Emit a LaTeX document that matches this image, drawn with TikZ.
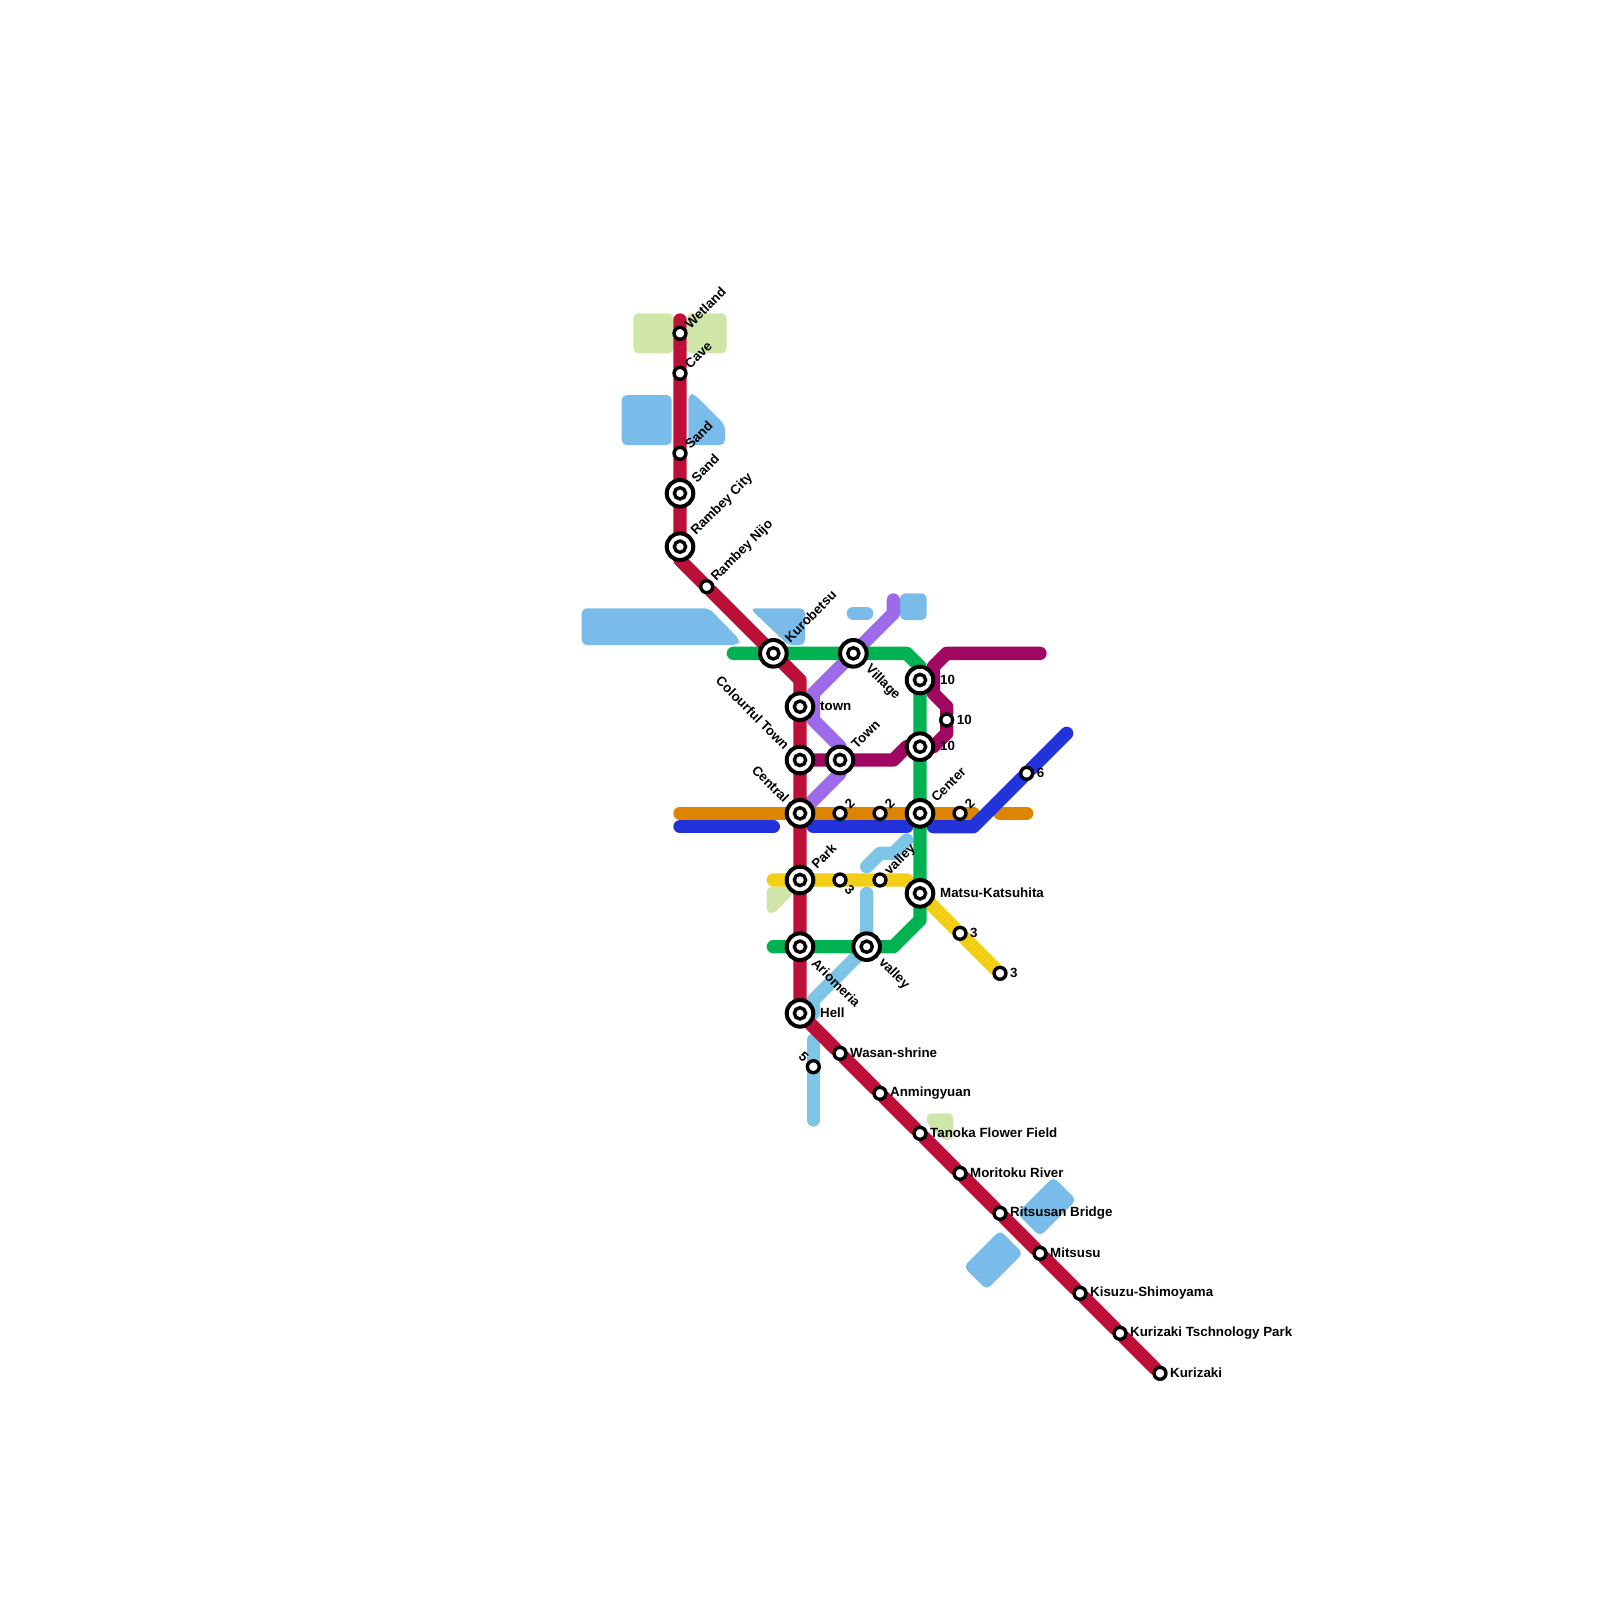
\documentclass[tikz,border=0pt]{standalone}
\usepackage{fontspec}
\setmainfont{Liberation Sans}
\definecolor{redline}{HTML}{BD1038}
\definecolor{greenline}{HTML}{00B251}
\definecolor{purpleline}{HTML}{9D6BEA}
\definecolor{magentaline}{HTML}{A00761}
\definecolor{orangeline}{HTML}{DD8500}
\definecolor{blueline}{HTML}{2233D9}
\definecolor{yellowline}{HTML}{F2CE14}
\definecolor{riverline}{HTML}{7CC5E7}
\definecolor{water}{HTML}{79BCE9}
\definecolor{park}{HTML}{D0E6A8}
\pgfdeclarelayer{lines}
\pgfsetlayers{lines,main}
\tikzset{
	smallstn/.style={circle,draw,fill=white,line width=3.4pt,inner sep=0pt,outer sep=0pt,minimum size=11.9pt},
	bigstn/.style={circle,draw,fill=white,line width=4pt,inner sep=0pt,outer sep=0pt,minimum size=26.6pt},
	bigdot/.style={circle,draw,fill=white,line width=3.4pt,inner sep=0pt,outer sep=0pt,minimum size=11.3pt},
	lbl/.style={inner sep=0pt,font=\fontsize{13.33}{13.33}\selectfont\bfseries},
	lble/.style={lbl,xshift=10pt,yshift=0.5pt,anchor=west},
	lblne/.style={lbl,xshift=7pt,yshift=7pt,rotate=45,anchor=west},
	lblse/.style={lbl,xshift=7pt,yshift=-7pt,rotate=-45,anchor=west},
	lblnw/.style={lbl,xshift=-7pt,yshift=7pt,rotate=-45,anchor=east},
	bige/.style={lbl,xshift=20pt,yshift=0.5pt,anchor=west},
	bigne/.style={lbl,xshift=13.5pt,yshift=13.5pt,rotate=45,anchor=west},
	bigse/.style={lbl,xshift=14pt,yshift=-14pt,rotate=-45,anchor=west},
	bignw/.style={lbl,xshift=-13pt,yshift=13pt,rotate=-45,anchor=east},
	route/.style={line width=13.33pt,line cap=round,line join=round},
	block/.style={rounded corners=5pt}
}
\begin{document}
\begin{tikzpicture}[x=1pt,y=-1pt]
\useasboundingbox (0,0) rectangle (1600,1600);
% interchange stations
\foreach \x/\y/\n/\t/\s in {680/493.33/sandcity/Sand/ne,680/546.67/rambey/Rambey City/ne,773.33/653.33/kurobetsu/Kurobetsu/ne,
	800/706.67/town/town/e,800/760/colourful/Colourful Town/nw,800/813.33/central/Central/nw,800/880/parkst/Park/ne,
	800/946.67/ariomeria/Ariomeria/se,800/1013.33/hell/Hell/e,853.33/653.33/village/Village/se,840/760/townb/Town/ne,
	866.67/946.67/valley/valley/se,920/680/tena/10/e,920/746.67/tenb/10/e,920/813.33/center/Center/ne,920/893.33/matsu/Matsu-Katsuhita/e}
{
	\node[bigstn] at (\x,\y) (\n) {};
	\node[bigdot] at (\x,\y) (\n dot) {};
	\node[big\s] at (\x,\y) (\n lbl) {\t};
}
% plain stations
\foreach \x/\y/\n/\t/\s in {680/333.33/wetland/Wetland/ne,680/373.33/cave/Cave/ne,680/453.33/sand/Sand/ne,706.67/586.67/nijo/Rambey Nijo/ne,
	946.67/720/tenc/10/e,1026.67/773.33/six/6/e,840/813.33/twoa/2/ne,880/813.33/twob/2/ne,960/813.33/twoc/2/ne,
	840/880/threea/3/se,880/880/valleyb/valley/ne,960/933.33/threeb/3/e,1000/973.33/threec/3/e,813.33/1066.67/five/5/nw,
	840/1053.33/wasan/Wasan-shrine/e,880/1093.33/anmingyuan/Anmingyuan/e,920/1133.33/tanoka/Tanoka Flower Field/e,
	960/1173.33/moritoku/Moritoku River/e,1000/1213.33/ritsusan/Ritsusan Bridge/e,1040/1253.33/mitsusu/Mitsusu/e,
	1080/1293.33/kisuzu/Kisuzu-Shimoyama/e,1120/1333.33/tschnology/Kurizaki Tschnology Park/e,1160/1373.33/kurizaki/Kurizaki/e}
{
	\node[smallstn] at (\x,\y) (\n) {};
	\node[lbl\s] at (\x,\y) (\n lbl) {\t};
}
% bends and line ends
\foreach \x/\y/\n in {680/320/reda,680/560/redb,800/680/redc,
	733.33/653.33/greena,906.67/653.33/greenb,920/666.67/greenc,920/920/greend,893.33/946.67/greene,773.33/946.67/greenf,
	893.33/600/purplea,893.33/613.33/purpleb,813.33/693.33/purplec,813.33/720/purpled,840/746.67/purplee,840/773.33/purplef,
	1040/653.33/maga,946.67/653.33/magb,933.33/666.67/magc,933.33/693.33/magd,946.67/706.67/mage,946.67/733.33/magf,933.33/746.67/magg,906.67/746.67/magh,893.33/760/magi,
	773.33/880/yellowa,906.67/880/yellowb,
	680/813.33/orangea,973.33/813.33/orangeb,1000/813.33/orangec,1026.67/813.33/oranged,
	680/826.67/bluea,773.33/826.67/blueb,813.33/826.67/bluec,906.67/826.67/blued,933.33/826.67/bluee,973.33/826.67/bluef,1066.67/733.33/blueg,
	866.67/866.67/rivera,880/853.33/riverb,893.33/853.33/riverc,906.67/840/riverd,866.67/893.33/rivere,813.33/1000/riverf,813.33/1013.33/riverg,
	813.33/1040/riverh,813.33/1120/riveri,853.33/613.33/riverj,866.67/613.33/riverk}
{
	\coordinate (\n) at (\x,\y);
}
\begin{pgfonlayer}{lines}
% parks and water
\fill[park,block] (633.33,313.33) rectangle (673.33,353.33);
\fill[park,block] (686.67,313.33) rectangle (726.67,353.33);
\fill[park,block] (766.67,886.67) -- (800,886.67) -- (774,913.33) -- (766.67,913.33) -- cycle;
\fill[park,block] (926.67,1113.33) -- (953.33,1113.33) -- (953.33,1140) -- (943,1140) -- (926.67,1123) -- cycle;
\fill[water,block] (621.67,395) rectangle (671.67,445);
\fill[water,block] (688.33,394) -- (694,394) -- (725,425) -- (725,445) -- (688.33,445) -- cycle;
\fill[water,block] (581.67,608.33) -- (709,608.33) -- (740,640) -- (738,645) -- (581.67,645) -- cycle;
\fill[water,block] (750,608.33) -- (805,608.33) -- (805,645) -- (788,645) -- cycle;
\fill[water,block] (900,593.33) rectangle (926.67,620);
\fill[water,block] (1053.33,1177) -- (1076.33,1200) -- (1040,1236.33) -- (1017,1213.33) -- cycle;
\fill[water,block] (1000,1230.33) -- (1023,1253.33) -- (986.67,1289.67) -- (963.67,1266.67) -- cycle;
% lines
\draw[route,water] (riverj) -- (riverk);
\draw[route,riverline] (rivera) -- (riverb) -- (riverc) -- (riverd);
\draw[route,riverline] (rivere) -- (valley) -- (riverf) -- (riverg);
\draw[route,riverline] (riverh) -- (five) -- (riveri);
\draw[route,purpleline] (purplea) -- (purpleb) -- (village) -- (purplec) -- (purpled) -- (purplee) -- (purplef) -- (central);
\draw[route,magentaline] (maga) -- (magb) -- (magc) -- (magd) -- (mage) -- (tenc) -- (magf) -- (magg) -- (magh) -- (magi) -- (townb) -- (colourful);
\draw[route,yellowline] (yellowa) -- (parkst) -- (threea) -- (valleyb) -- (yellowb) -- (matsu) -- (threeb) -- (threec);
\draw[route,orangeline] (orangea) -- (central) -- (twoa) -- (twob) -- (center) -- (twoc) -- (orangeb);
\draw[route,orangeline] (orangec) -- (oranged);
\draw[route,blueline] (bluea) -- (blueb);
\draw[route,blueline] (bluec) -- (blued);
\draw[route,blueline] (bluee) -- (bluef) -- (six) -- (blueg);
\draw[route,greenline] (greena) -- (kurobetsu) -- (village) -- (greenb) -- (greenc) -- (tena) -- (tenb) -- (center) -- (matsu) -- (greend) -- (greene) -- (valley) -- (ariomeria) -- (greenf);
\draw[route,redline] (reda) -- (wetland) -- (cave) -- (sand) -- (sandcity) -- (rambey) -- (redb) -- (nijo) -- (kurobetsu) -- (redc) -- (town) -- (colourful) -- (central) -- (parkst) -- (ariomeria) -- (hell) -- (wasan) -- (anmingyuan) -- (tanoka) -- (moritoku) -- (ritsusan) -- (mitsusu) -- (kisuzu) -- (tschnology) -- (kurizaki);
\end{pgfonlayer}
\end{tikzpicture}
\end{document}
